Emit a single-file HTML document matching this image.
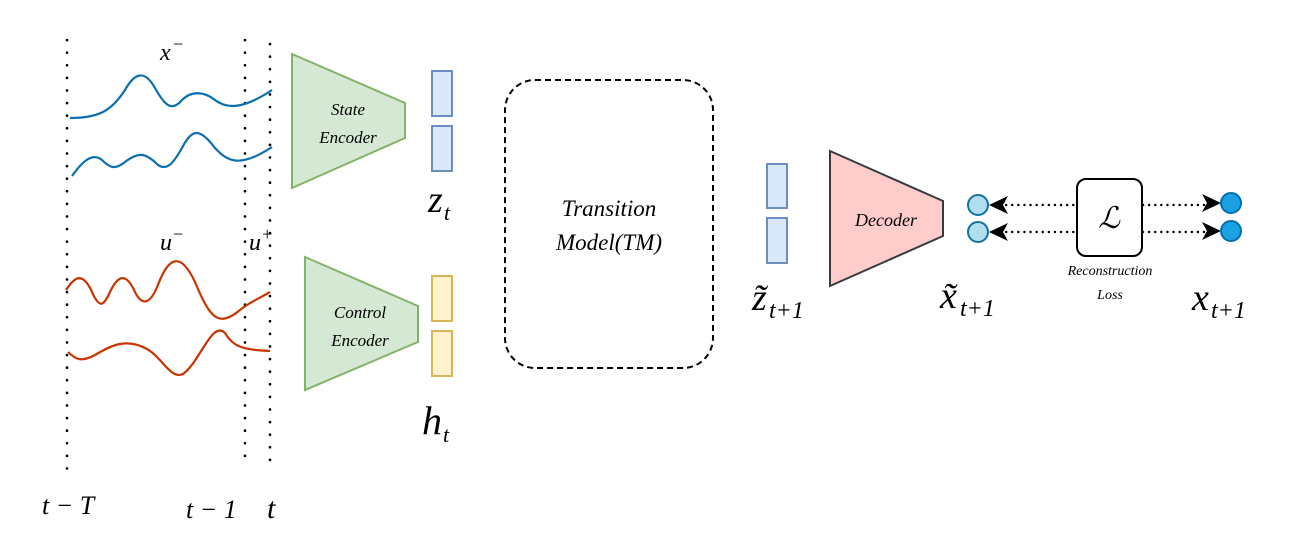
<!DOCTYPE html>
<html><head><meta charset="utf-8"><style>
html,body{margin:0;padding:0;background:#fff;}
svg text{font-family:"Liberation Serif",serif;font-style:italic;}
</style></head><body>
<svg width="1292" height="543" viewBox="0 0 1292 543" xmlns="http://www.w3.org/2000/svg">
<g stroke="#000" stroke-width="2.6" stroke-dasharray="0.1,12.5" stroke-linecap="round">
<line x1="67" y1="40" x2="67" y2="478"/>
<line x1="245" y1="40" x2="245" y2="468"/>
<line x1="270" y1="44" x2="270" y2="470"/>
</g>
<g fill="none" stroke="#0a6fb0" stroke-width="2.2">
<path d="M70,118 C100,118 112,110 125,90 C135,72 145,70 155,88 C165,106 172,112 182,100 C192,90 205,92 215,100 C228,110 245,108 272,90"/>
<path d="M72,176 C82,162 92,152 102,160 C110,168 115,170 125,162 C138,152 145,152 158,165 C168,172 175,160 182,148 C192,128 200,128 215,148 C228,162 240,168 272,147"/>
</g>
<g fill="none" stroke="#c73500" stroke-width="2.2">
<path d="M66,290 C74,278 82,270 92,292 C100,310 104,305 110,292 C118,275 126,272 135,292 C142,306 150,305 158,285 C168,258 180,250 195,282 C210,318 218,328 240,310 C250,302 260,298 270,292"/>
<path d="M68,352 C76,360 82,362 95,355 C110,346 125,338 145,348 C162,356 170,380 183,374 C200,362 212,320 225,333 C232,345 240,350 270,351"/>
</g>
<text x="160" y="60" font-size="24">x</text><text x="172" y="50" font-size="18" font-style="normal">−</text>
<text x="160" y="250" font-size="24">u</text><text x="172" y="240" font-size="18" font-style="normal">−</text>
<text x="249" y="250" font-size="24">u</text><text x="261" y="240" font-size="18" font-style="normal">+</text>
<polygon points="292,54 405,103 405,138 292,188" fill="#d5e8d4" stroke="#82b366" stroke-width="2"/>
<text x="348" y="115" font-size="17" text-anchor="middle">State</text>
<text x="348" y="143" font-size="17" text-anchor="middle">Encoder</text>
<polygon points="305,257 418,306 418,342 305,390" fill="#d5e8d4" stroke="#82b366" stroke-width="2"/>
<text x="360" y="318" font-size="17" text-anchor="middle">Control</text>
<text x="360" y="346" font-size="17" text-anchor="middle">Encoder</text>
<g fill="#dae8fc" stroke="#6c8ebf" stroke-width="2">
<rect x="432" y="71" width="20" height="45"/><rect x="432" y="126" width="20" height="45"/>
<rect x="767" y="164" width="20" height="44"/><rect x="767" y="218" width="20" height="45"/>
</g>
<g fill="#fff2cc" stroke="#d6b656" stroke-width="2">
<rect x="432" y="276" width="20" height="45"/><rect x="432" y="331" width="20" height="45"/>
</g>
<text x="428" y="212" font-size="38">z</text><text x="444" y="220" font-size="22">t</text>
<text x="422" y="434" font-size="40">h</text><text x="443" y="442" font-size="22">t</text>
<rect x="505" y="80" width="208" height="288" rx="30" fill="none" stroke="#000" stroke-width="2" stroke-dasharray="6,4"/>
<text x="609" y="216" font-size="23" text-anchor="middle">Transition</text>
<text x="609" y="250" font-size="23" text-anchor="middle">Model(TM)</text>
<text x="752" y="310" font-size="38">z̃</text><text x="769" y="318" font-size="24" font-style="normal">t+1</text>
<polygon points="830,151 943,201 943,236 830,286" fill="#ffcccc" stroke="#36393d" stroke-width="2"/>
<text x="886" y="226" font-size="18" text-anchor="middle">Decoder</text>
<text x="940" y="308" font-size="38">x̃</text><text x="960" y="316" font-size="24" font-style="normal">t+1</text>
<g stroke="#000" stroke-width="2.4" stroke-dasharray="0.1,6" stroke-linecap="round">
<line x1="1000" y1="205" x2="1076" y2="205"/><line x1="1000" y1="232" x2="1076" y2="232"/>
<line x1="1143" y1="205" x2="1208" y2="205"/><line x1="1143" y1="232" x2="1208" y2="232"/>
</g>
<g fill="#000">
<polygon points="989,205 1008,196 1003,205 1008,214"/><polygon points="989,232 1008,223 1003,232 1008,241"/>
<polygon points="1221,203 1202,194 1207,203 1202,212"/><polygon points="1221,231 1202,222 1207,231 1202,240"/>
</g>
<circle cx="978" cy="205" r="10" fill="#b1ddf0" stroke="#10739e" stroke-width="2"/>
<circle cx="978" cy="232" r="10" fill="#b1ddf0" stroke="#10739e" stroke-width="2"/>
<circle cx="1231" cy="203" r="10" fill="#1ba1e2" stroke="#006eaf" stroke-width="2"/>
<circle cx="1231" cy="231" r="10" fill="#1ba1e2" stroke="#006eaf" stroke-width="2"/>
<rect x="1077" y="179" width="65" height="77" rx="9" fill="#fff" stroke="#000" stroke-width="2"/>
<text x="1109" y="228" font-size="30" text-anchor="middle" font-family="DejaVu Serif,serif">ℒ</text>
<text x="1110" y="275" font-size="14" text-anchor="middle">Reconstruction</text>
<text x="1110" y="299" font-size="14" text-anchor="middle">Loss</text>
<text x="1192" y="310" font-size="38">x</text><text x="1211" y="318" font-size="24" font-style="normal">t+1</text>
<text x="42" y="514" font-size="26">t − T</text>
<text x="186" y="518" font-size="26">t − 1</text>
<text x="267" y="518" font-size="30">t</text>
</svg>
</body></html>
